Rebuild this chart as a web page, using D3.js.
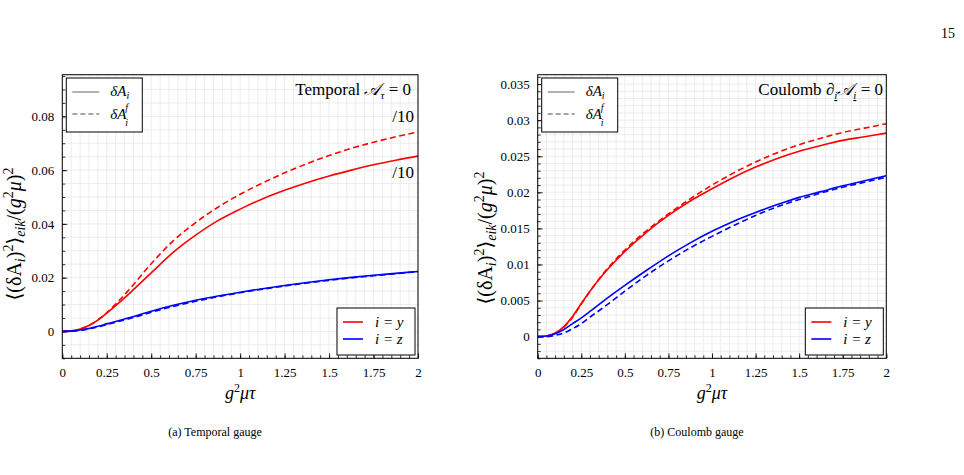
<!DOCTYPE html>
<html><head><meta charset="utf-8">
<script src="https://cdn.jsdelivr.net/npm/d3@7"></script>
<style>
body{margin:0;background:#fff;}
svg, svg text{font-family:"Liberation Serif","DejaVu Serif",serif;}
</style></head>
<body><svg id="c" width="964" height="475"></svg>
<script>
// ---- data ----
const xs = [0,0.05,0.1,0.15,0.2,0.25,0.3,0.375,0.5,0.625,0.75,0.875,1,1.125,1.25,1.375,1.5,1.625,1.75,1.875,2];
// Temporal gauge (red values are divided by 10)
const tempRedSolid  = [0,0.0002,0.0009,0.0022,0.0042,0.0068,0.0096,0.0140,0.0218,0.0295,0.0358,0.0412,0.0455,0.0493,0.0525,0.0553,0.0578,0.0600,0.0620,0.0637,0.0652];
const tempRedDash   = [0,0.0002,0.0009,0.0022,0.0043,0.0070,0.0102,0.0155,0.0252,0.0338,0.0405,0.0462,0.0510,0.0552,0.0590,0.0624,0.0654,0.0681,0.0704,0.0724,0.0742];
const tempBlueSolid = [0,0.0001,0.0005,0.0011,0.0019,0.0028,0.0037,0.0051,0.0075,0.0097,0.0116,0.0132,0.0146,0.0159,0.0171,0.0182,0.0192,0.0201,0.0209,0.0216,0.0223];
const tempBlueDash  = [0,0.0001,0.0004,0.0010,0.0017,0.0025,0.0034,0.0047,0.0071,0.0093,0.0112,0.0129,0.0144,0.0157,0.0169,0.0180,0.0190,0.0199,0.0207,0.0215,0.0222];
// Coulomb gauge
const coulRedSolid  = [0,0.0001,0.0005,0.0014,0.0028,0.0046,0.0063,0.0086,0.0118,0.0145,0.0168,0.0188,0.0205,0.0221,0.0235,0.0247,0.0257,0.0265,0.0272,0.0277,0.0282];
const coulRedDash   = [0,0.0001,0.0004,0.0013,0.0027,0.0045,0.0063,0.0087,0.0120,0.0147,0.0170,0.0191,0.0210,0.0227,0.0242,0.0255,0.0266,0.0275,0.0283,0.0289,0.0295];
const coulBlueSolid = [0,0.0001,0.0004,0.0010,0.0018,0.0026,0.0035,0.0049,0.0071,0.0092,0.0112,0.0130,0.0146,0.0160,0.0172,0.0183,0.0193,0.0201,0.0209,0.0216,0.0223];
const coulBlueDash  = [0,0.0000,0.0002,0.0005,0.0011,0.0018,0.0027,0.0040,0.0063,0.0085,0.0105,0.0123,0.0139,0.0154,0.0168,0.0180,0.0190,0.0199,0.0207,0.0214,0.0221];
const xTicks = [0,0.25,0.5,0.75,1,1.25,1.5,1.75,2];
const xTickLabels = ["0","0.25","0.5","0.75","1","1.25","1.5","1.75","2"];
const tempYTicks = [0,0.02,0.04,0.06,0.08];
const tempYTickLabels = ["0","0.02","0.04","0.06","0.08"];
const coulYTicks = [0,0.005,0.01,0.015,0.02,0.025,0.03,0.035];
const coulYTickLabels = ["0","0.005","0.01","0.015","0.02","0.025","0.03","0.035"];

const svg = d3.select("#c");
const RED="#ff0000", BLUE="#0000ff";
const SERIF = '"Liberation Serif","DejaVu Serif",serif';

function panel(o){
  const x = d3.scaleLinear().domain([0,2]).range([o.x0,o.x1]);
  const y = d3.scaleLinear().domain(o.yDom).range([358.3,74.7]);
  const g = svg.append("g");
  const cid = "clip"+o.id;
  svg.append("clipPath").attr("id",cid).append("rect")
    .attr("x",o.x0).attr("y",74.7).attr("width",o.x1-o.x0).attr("height",358.3-74.7);
  // grid
  const gx = d3.range(0,2.0001,0.05);
  const gy = d3.range(Math.ceil(o.yDom[0]/o.minor-1e-9)*o.minor, o.yDom[1]+1e-12, o.minor);
  g.append("g").selectAll("line").data(gx).join("line")
    .attr("x1",d=>x(d)).attr("x2",d=>x(d)).attr("y1",74.7).attr("y2",358.3)
    .attr("stroke","#e8e8e8").attr("stroke-width",0.8);
  g.append("g").selectAll("line").data(gy).join("line")
    .attr("y1",d=>y(d)).attr("y2",d=>y(d)).attr("x1",o.x0).attr("x2",o.x1)
    .attr("stroke","#e8e8e8").attr("stroke-width",0.8);
  // axes with inward ticks
  const bx = d3.axisBottom(x).tickValues(xTicks).tickFormat((d,i)=>xTickLabels[i]).tickSizeInner(-5).tickSizeOuter(0).tickPadding(9);
  const bxm = d3.axisBottom(x).tickValues(gx).tickFormat("").tickSizeInner(-3).tickSizeOuter(0);
  const ly = d3.axisLeft(y).tickValues(o.yTicks).tickFormat((d,i)=>o.yLabels[i]).tickSizeInner(-5).tickSizeOuter(0).tickPadding(8);
  const lym = d3.axisLeft(y).tickValues(gy).tickFormat("").tickSizeInner(-3).tickSizeOuter(0);
  [[bxm,"b"],[bx,"b"],[lym,"l"],[ly,"l"]].forEach(([ax,s])=>{
    const a = g.append("g").attr("transform", s==="b" ? `translate(0,358.3)` : `translate(${o.x0},0)`).call(ax)
      .attr("font-family",SERIF).attr("font-size",13);
    a.select(".domain").remove();
    a.selectAll("line").attr("stroke","#000").attr("stroke-width",0.8);
    a.selectAll("text").style("font-family",SERIF).style("font-size","13px").attr("fill","#000");
  });
  // curves
  const line = d3.line().x((d,i)=>x(xs[i])).y(d=>y(d)).curve(d3.curveMonotoneX);
  const cg = g.append("g").attr("clip-path",`url(#${cid})`);
  o.series.forEach(s=>{
    cg.append("path").attr("d",line(s.v)).attr("fill","none").attr("stroke",s.c)
      .attr("stroke-width",1.6).attr("stroke-dasharray",s.dash?"6,3.5":null);
  });
  // frame
  g.append("rect").attr("x",o.x0).attr("y",74.7).attr("width",o.x1-o.x0).attr("height",358.3-74.7)
    .attr("fill","none").attr("stroke","#000").attr("stroke-width",1);
  // style legend (top-left)
  const L1 = g.append("g").attr("transform",`translate(${o.x0+4},78)`);
  L1.append("rect").attr("width",76).attr("height",54).attr("fill","#fff").attr("stroke","#000").attr("stroke-width",1);
  L1.append("line").attr("x1",6).attr("x2",33).attr("y1",14).attr("y2",14).attr("stroke","#888").attr("stroke-width",1.3);
  L1.append("line").attr("x1",6).attr("x2",33).attr("y1",36).attr("y2",36).attr("stroke","#888").attr("stroke-width",1.3).attr("stroke-dasharray","5,3");
  const t1 = L1.append("text").attr("x",44).attr("y",18).attr("font-size",15).attr("font-style","italic");
  t1.append("tspan").text("δA"); t1.append("tspan").attr("dy",3).attr("font-size",10).text("i");
  L1.append("text").attr("x",44).attr("y",41).attr("font-size",15).attr("font-style","italic").text("δA");
  L1.append("text").attr("x",59).attr("y",33).attr("font-size",10).attr("font-style","italic").text("f");
  L1.append("text").attr("x",59).attr("y",48).attr("font-size",10).attr("font-style","italic").text("i");
  // color legend (bottom-right)
  const L2 = g.append("g").attr("transform",`translate(${o.x1-81},308)`);
  L2.append("rect").attr("width",78).attr("height",47).attr("fill","#fff").attr("stroke","#000").attr("stroke-width",1);
  L2.append("line").attr("x1",6).attr("x2",26).attr("y1",14).attr("y2",14).attr("stroke",RED).attr("stroke-width",1.6);
  L2.append("line").attr("x1",6).attr("x2",26).attr("y1",31).attr("y2",31).attr("stroke",BLUE).attr("stroke-width",1.6);
  L2.append("text").attr("x",38).attr("y",19).attr("font-size",15).attr("font-style","italic").text("i = y");
  L2.append("text").attr("x",38).attr("y",36).attr("font-size",15).attr("font-style","italic").text("i = z");
  // x label
  const xl = svg.append("text").attr("x",(o.x0+o.x1)/2).attr("y",399).attr("text-anchor","middle").attr("font-size",18).attr("font-style","italic");
  xl.append("tspan").text("g"); xl.append("tspan").attr("dy",-7).attr("font-size",12).attr("font-style","normal").text("2");
  xl.append("tspan").attr("dy",7).text("μτ");
  // y label
  const yl = svg.append("text").attr("transform",`translate(${o.ylx},${o.yly}) rotate(-90)`).attr("text-anchor","middle").attr("font-size",20);
  yl.append("tspan").text("⟨(δA");
  yl.append("tspan").attr("dy",4).attr("font-size",14).attr("font-style","italic").text("i");
  yl.append("tspan").attr("dy",-4).text(")");
  yl.append("tspan").attr("dy",-8).attr("font-size",14).text("2");
  yl.append("tspan").attr("dy",8).text("⟩");
  yl.append("tspan").attr("dy",4).attr("font-size",14).attr("font-style","italic").text("eik");
  yl.append("tspan").attr("dy",-4).text("/(");
  yl.append("tspan").attr("font-style","italic").text("g");
  yl.append("tspan").attr("dy",-8).attr("font-size",14).text("2");
  yl.append("tspan").attr("dy",8).attr("font-style","italic").text("μ");
  yl.append("tspan").text(")");
  yl.append("tspan").attr("dy",-8).attr("font-size",14).text("2");
  return {x,y,g};
}

const P1 = panel({id:1,x0:62.3,x1:418,yDom:[-0.01,0.0955],minor:0.005,yTicks:tempYTicks,yLabels:tempYTickLabels,ylx:21,yly:234,
  series:[{v:tempRedDash,c:RED,dash:true},{v:tempRedSolid,c:RED},{v:tempBlueDash,c:BLUE,dash:true},{v:tempBlueSolid,c:BLUE}]});
const P2 = panel({id:2,x0:537.7,x1:886.3,yDom:[-0.003,0.0363],minor:0.001,yTicks:coulYTicks,yLabels:coulYTickLabels,ylx:492,yly:238,
  series:[{v:coulRedDash,c:RED,dash:true},{v:coulRedSolid,c:RED},{v:coulBlueDash,c:BLUE,dash:true},{v:coulBlueSolid,c:BLUE}]});

// annotations
const a1 = svg.append("text").attr("x",411).attr("y",95).attr("text-anchor","end").attr("font-size",17);
a1.append("tspan").text("Temporal ");
a1.append("tspan").attr("font-style","italic").text("𝒜");
a1.append("tspan").attr("dy",4).attr("font-size",11).attr("font-style","italic").text("τ");
a1.append("tspan").attr("dy",-4).text(" = 0");
svg.append("text").attr("x",414).attr("y",122).attr("text-anchor","end").attr("font-size",17).text("/10");
svg.append("text").attr("x",414).attr("y",178).attr("text-anchor","end").attr("font-size",17).text("/10");

const a2 = svg.append("text").attr("x",883).attr("y",95).attr("text-anchor","end").attr("font-size",17);
a2.append("tspan").text("Coulomb ");
a2.append("tspan").attr("font-style","italic").text("∂");
a2.append("tspan").attr("dy",4).attr("font-size",11).attr("font-style","italic").attr("text-decoration","underline").text("i");
a2.append("tspan").attr("dy",-4).attr("font-style","italic").text("𝒜");
a2.append("tspan").attr("dy",4).attr("font-size",11).attr("font-style","italic").attr("text-decoration","underline").text("i");
a2.append("tspan").attr("dy",-4).text(" = 0");

// page number and captions
svg.append("text").attr("x",955).attr("y",38).attr("text-anchor","end").attr("font-size",14).text("15");
svg.append("text").attr("x",215).attr("y",436).attr("text-anchor","middle").attr("font-size",12).text("(a) Temporal gauge");
svg.append("text").attr("x",697).attr("y",436).attr("text-anchor","middle").attr("font-size",12).text("(b) Coulomb gauge");
</script></body></html>
